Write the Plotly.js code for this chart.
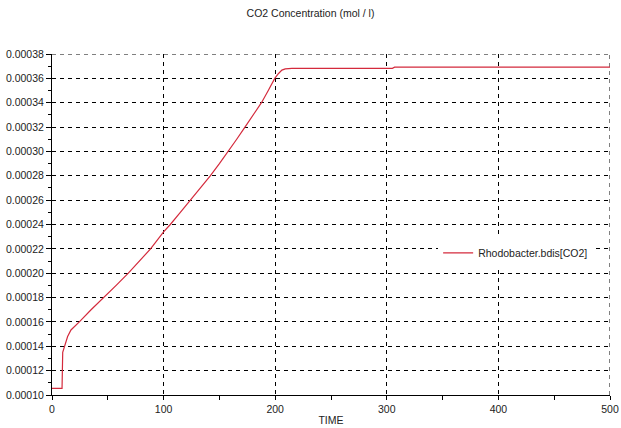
<!DOCTYPE html>
<html><head><meta charset="utf-8">
<script src="https://cdn.plot.ly/plotly-3.0.1.min.js"></script>
<style>body{margin:0;background:#fff}#c{width:621px;height:428px}</style>
</head><body><div id="c"></div>
<script>
const seriesName = "Rhodobacter.bdis[CO2]";
const time = [0, 9, 9.6, 12, 14, 17, 20, 24.5, 35, 46.7, 57.5, 68.4, 78.5, 88.3, 100, 106, 115, 124, 133, 141.8, 150, 158, 165.5, 172.9, 180.3, 187.7, 193.8, 199.6, 203, 206, 209, 215, 305, 307, 500];
const co2 = [0.0001055, 0.0001055, 0.000135, 0.000143, 0.000148, 0.0001534, 0.000156, 0.00016, 0.00017, 0.00018, 0.00019, 0.0002, 0.00021, 0.00022, 0.000234, 0.00024, 0.00025, 0.00026, 0.00027, 0.00028, 0.00029, 0.0003, 0.00031, 0.00032, 0.00033, 0.00034, 0.00035, 0.00036, 0.000364, 0.0003668, 0.0003678, 0.0003682, 0.0003682, 0.0003692, 0.0003692];
const yTicks = [0.0001,0.00012,0.00014,0.00016,0.00018,0.0002,0.00022,0.00024,0.00026,0.00028,0.0003,0.00032,0.00034,0.00036,0.00038];
const yTickText = ["0.00010","0.00012","0.00014","0.00016","0.00018","0.00020","0.00022","0.00024","0.00026","0.00028","0.00030","0.00032","0.00034","0.00036","0.00038"];
const xTicks = [0,100,200,300,400,500];

const font = {family: "Liberation Sans, Arial, sans-serif", size: 10.5, color: "#222"};
const gridLine = {color: "#000", width: 1, dash: "4px,4px"};
const xMax = xTicks[xTicks.length - 1], yMax = yTicks[yTicks.length - 1];
Plotly.newPlot("c", [{
  x: time, y: co2, type: "scatter", mode: "lines", name: seriesName,
  line: {color: "#d42a3c", width: 1.2}
}], {
  width: 621, height: 428,
  margin: {l: 52, r: 11, t: 54, b: 33},
  paper_bgcolor: "#fff", plot_bgcolor: "#fff",
  font: font,
  title: {text: "CO2 Concentration (mol / l)", font: {family: font.family, size: 10.5, color: "#222"}, x: 0.5, y: 0.968, yanchor: "middle"},
  showlegend: true,
  legend: {x: 0.692, xanchor: "left", y: 0.417, yanchor: "middle", bgcolor: "#fff", borderwidth: 0, font: font, itemwidth: 30},
  shapes: [
    {type: "line", xref: "paper", yref: "y", x0: 0, x1: 1, y0: yMax, y1: yMax, line: gridLine, layer: "below"},
    {type: "line", xref: "x", yref: "paper", x0: xMax, x1: xMax, y0: 0, y1: 1, line: gridLine, layer: "below"}
  ],
  xaxis: {
    range: [0, xMax], tickvals: xTicks, ticks: "outside", ticklen: 4, tickcolor: "#000",
    showline: true, linecolor: "#000", linewidth: 1, ticklabeloverflow: "allow",
    showgrid: true, gridcolor: "#000", griddash: "4px,4px", gridwidth: 1, zeroline: false,
    minor: {dtick: 50, ticks: "outside", ticklen: 4, tickcolor: "#000", showgrid: false},
    title: {text: "TIME", font: font, standoff: 3},
    tickfont: font
  },
  yaxis: {
    range: [0.0001, yMax], tickvals: yTicks, ticktext: yTickText, ticks: "outside", ticklen: 5, tickcolor: "#000",
    showline: true, linecolor: "#000", linewidth: 1, ticklabeloverflow: "allow",
    showgrid: true, gridcolor: "#000", griddash: "4px,4px", gridwidth: 1, zeroline: false,
    minor: {dtick: 0.00001, tick0: 0.0001, ticks: "outside", ticklen: 3, tickcolor: "#000", showgrid: false},
    tickfont: font
  }
}, {staticPlot: true});
</script></body></html>
